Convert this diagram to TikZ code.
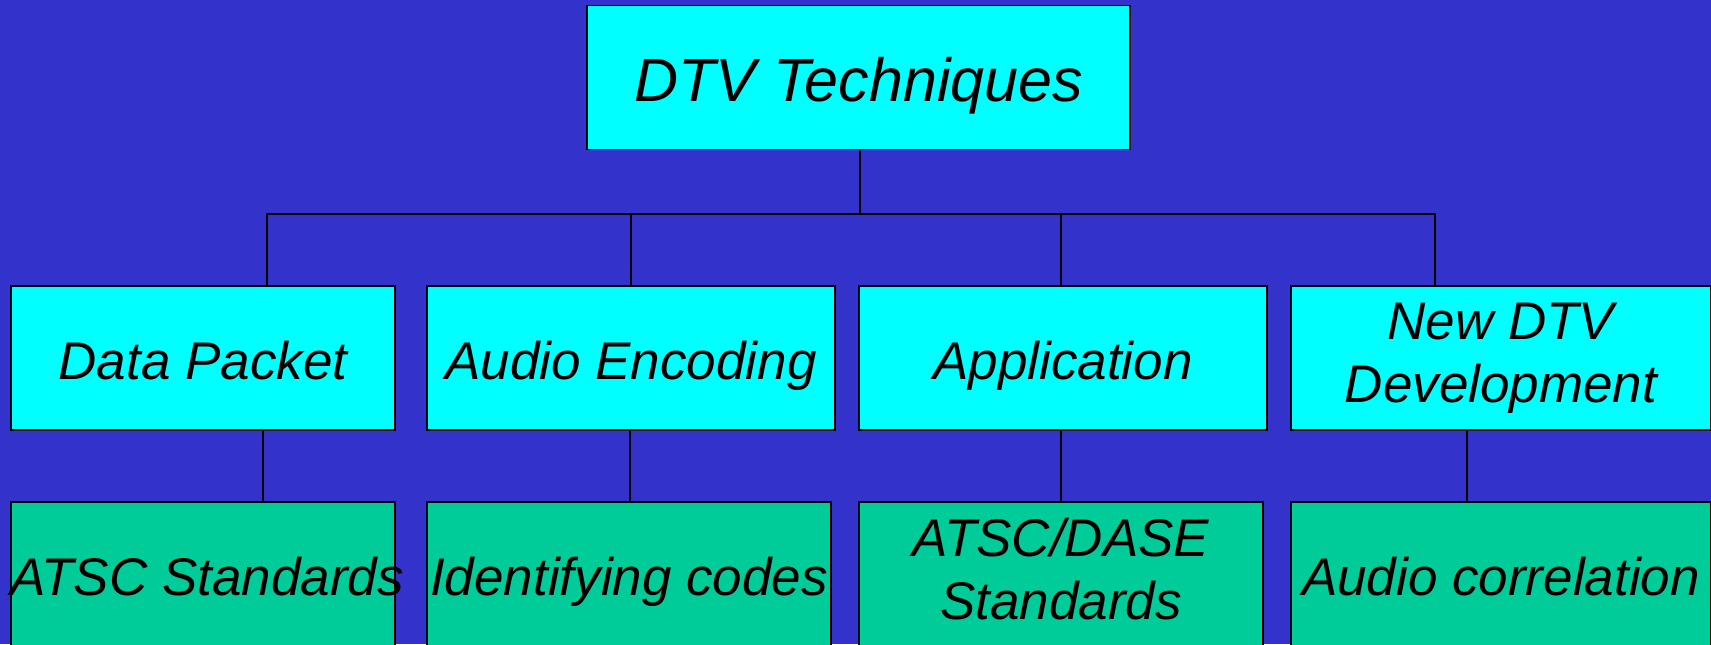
\documentclass[tikz,border=0pt]{standalone}
\usepackage{fontspec}
\setmainfont{Liberation Sans}
\definecolor{dtvback}{RGB}{51,51,204}
\definecolor{dtvcyan}{RGB}{0,255,255}
\definecolor{dtvgreen}{RGB}{0,204,153}
\newcommand{\dtvstrut}{\rule[-0.207em]{0pt}{1.207em}}
\tikzset{
  dtvbox/.style={draw=black,line width=0.75pt,fill=dtvcyan,minimum height=72pt,inner sep=0pt,outer sep=0pt,
    align=center,font=\fontsize{26.5}{31.5}\selectfont\itshape,
    execute at begin node=\dtvstrut,execute at end node=\dtvstrut},
  leafbox/.style={dtvbox,fill=dtvgreen},
  link/.style={draw=black,line width=0.75pt}
}
\begin{document}
\begin{tikzpicture}[x=0.5pt,y=-0.5pt]
        \fill[dtvback] (0,0) rectangle (1711,644);
        \useasboundingbox (0,0) rectangle (1711,644);
        \node[dtvbox,minimum width=271.5pt,font=\fontsize{30.5}{36}\selectfont\itshape] (top) at (858.5,77.5) {DTV Techniques};
        \node[dtvbox,minimum width=192pt] (dp) at (203,358) {Data Packet};
        \node[dtvbox,minimum width=204pt] (ae) at (631,358) {Audio Encoding};
        \node[dtvbox,minimum width=204pt] (ap) at (1063,358) {Application};
        \node[dtvbox,minimum width=210pt] (nd) at (1501,358) {New DTV\\Development};
        \node[leafbox,minimum width=192pt] (atsc) at (203,574) {\makebox[0pt]{\hspace{4pt}ATSC Standards}};
        \node[leafbox,minimum width=202pt] (ident) at (629,574) {\makebox[0pt]{Identifying codes}};
        \node[leafbox,minimum width=202pt] (dase) at (1061,574) {ATSC/DASE\\Standards};
        \node[leafbox,minimum width=210pt] (corr) at (1501,574) {Audio correlation};
        \coordinate (bar) at (860,214);
        \draw[link] (top.south -| bar) -- (bar);
        \draw[link] ([xshift=32pt]dp.north) |- (bar);
        \draw[link] (ae.north) |- (bar);
        \draw[link] ([xshift=-1pt]ap.north) |- (bar);
        \draw[link] ([xshift=-33pt]nd.north) |- (bar);
        \draw[link] ([xshift=30pt]dp.south) -- ([xshift=30pt]atsc.north);
        \draw[link] ([xshift=-0.5pt]ae.south) -- ([xshift=0.5pt]ident.north);
        \draw[link] ([xshift=-1pt]ap.south) -- (dase.north);
        \draw[link] ([xshift=-17pt]nd.south) -- ([xshift=-17pt]corr.north);
      \end{tikzpicture}
\end{document}
